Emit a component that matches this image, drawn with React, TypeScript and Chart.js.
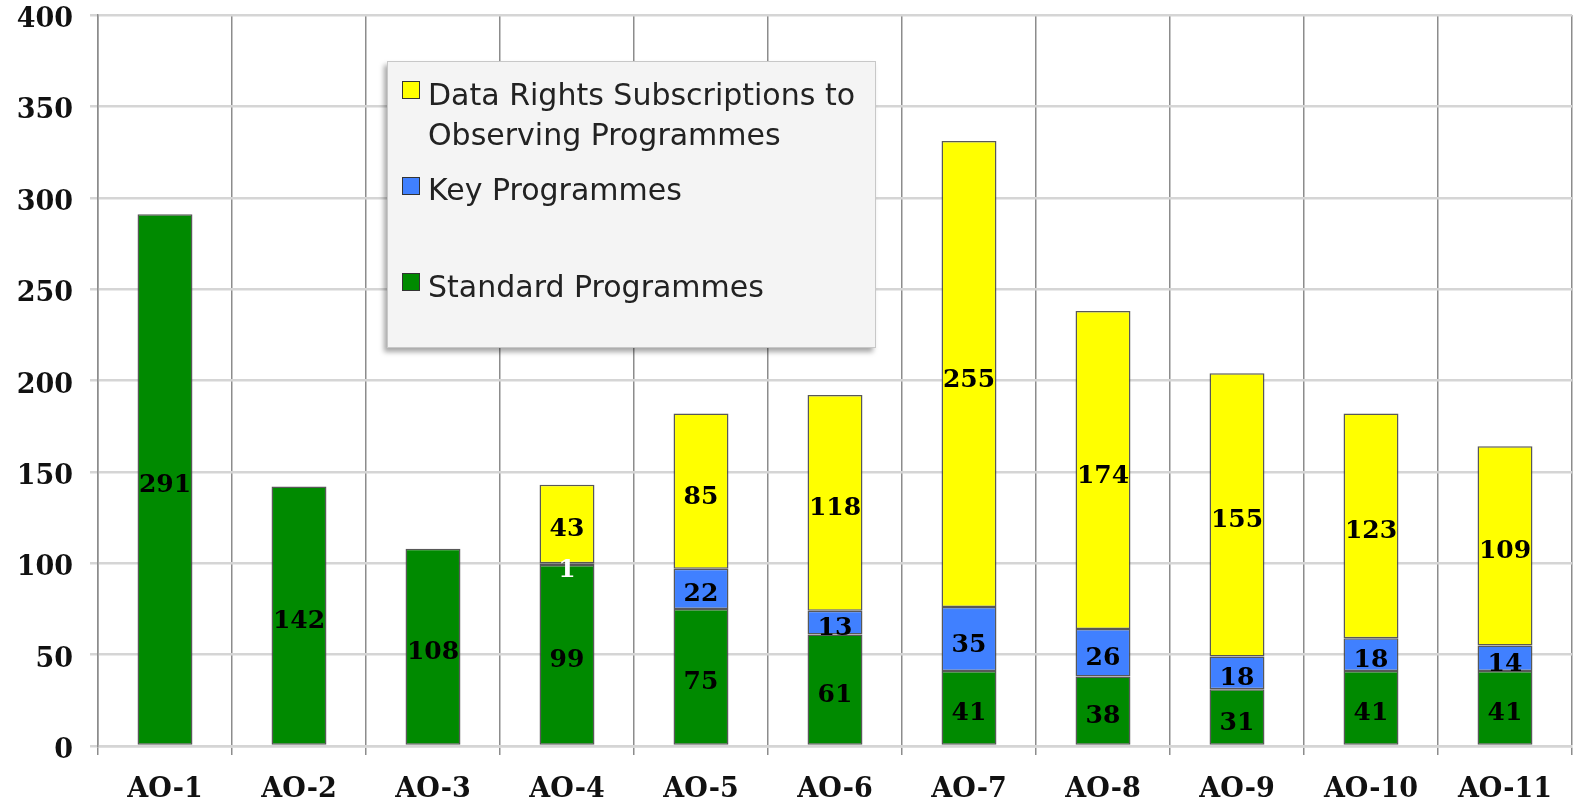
import React, { useEffect, useRef } from "react";
import { Chart, registerables } from "chart.js";

Chart.register(...registerables);

const categories = ["AO-1", "AO-2", "AO-3", "AO-4", "AO-5", "AO-6", "AO-7", "AO-8", "AO-9", "AO-10", "AO-11"];
const standardProgrammes = [291, 142, 108, 99, 75, 61, 41, 38, 31, 41, 41];
const keyProgrammes = [0, 0, 0, 1, 22, 13, 35, 26, 18, 18, 14];
const dataRights = [0, 0, 0, 43, 85, 118, 255, 174, 155, 123, 109];
const yTicks = [0, 50, 100, 150, 200, 250, 300, 350, 400];

const GREEN = "#008a00";
const BLUE = "#4080ff";
const YELLOW = "#ffff00";

const SERIF = "'DejaVu Serif', 'Liberation Serif', serif";
const SANS = "'DejaVu Sans', 'Liberation Sans', sans-serif";

const labelPlugin = {
  id: "segLabels",
  afterDatasetsDraw(chart: any) {
    const ctx = chart.ctx;
    ctx.save();
    ctx.font = `bold 25px ${SERIF}`;
    ctx.textAlign = "center";
    ctx.textBaseline = "middle";
    chart.data.datasets.forEach((ds: any, i: number) => {
      const meta = chart.getDatasetMeta(i);
      meta.data.forEach((el: any, j: number) => {
        const v = ds.data[j];
        if (!v) return;
        const p = el.getProps(["x", "y", "base"], true);
        const h = Math.abs(p.base - p.y);
        const cy = (p.y + p.base) / 2 + 6;
        ctx.fillStyle = h < 12 ? "#ffffff" : "#000000";
        ctx.fillText(String(v), p.x, cy);
      });
    });
    ctx.restore();
  },
};

export default function App() {
  const ref = useRef<HTMLCanvasElement | null>(null);
  useEffect(() => {
    document.body.style.margin = "0";
    const canvas = ref.current;
    if (!canvas) return;
    const border = { borderWidth: 1.5, borderColor: "rgba(70,70,70,0.9)", borderSkipped: false };
    const chart = new Chart(canvas, {
      type: "bar",
      data: {
        labels: categories,
        datasets: [
          { label: "Standard Programmes", data: standardProgrammes, backgroundColor: GREEN, ...border },
          { label: "Key Programmes", data: keyProgrammes, backgroundColor: BLUE, ...border },
          { label: "Data Rights Subscriptions to Observing Programmes", data: dataRights, backgroundColor: YELLOW, ...border },
        ],
      } as any,
      options: {
        animation: false,
        responsive: true,
        maintainAspectRatio: false,
        layout: { padding: { top: 15, right: 1, left: 0, bottom: 0 } },
        datasets: { bar: { barPercentage: 0.41, categoryPercentage: 1 } },
        plugins: { legend: { display: false }, tooltip: { enabled: false } },
        scales: {
          x: {
            stacked: true,
            offset: true,
            grid: { offset: true, color: "#8c8c8c", lineWidth: 1.5, tickLength: 9, drawTicks: true },
            border: { color: "#d5d5d5", width: 2.5 },
            ticks: { color: "#111", font: { family: SERIF, size: 27, weight: "bold" }, padding: 19 },
            afterFit: (s: any) => { s.height = 58; s.paddingLeft = 0; s.paddingRight = 0; },
          },
          y: {
            stacked: true,
            min: 0,
            max: 400,
            afterBuildTicks: (s: any) => { s.ticks = yTicks.map((v) => ({ value: v })); },
            grid: { color: "#d5d5d5", lineWidth: 2.5, tickLength: 8 },
            border: { color: "#8c8c8c", width: 1.5 },
            ticks: { color: "#111", font: { family: SERIF, size: 27, weight: "bold" }, padding: 17, labelOffset: 5 },
            afterFit: (s: any) => { s.width = 98; s.paddingTop = 0; s.paddingBottom = 0; },
          },
        },
      } as any,
      plugins: [labelPlugin],
    });
    return () => chart.destroy();
  }, []);

  const sq = (color: string, top: number) => (
    <div style={{ position: "absolute", left: 14, top, width: 16, height: 16, background: color, border: "1px solid #333" }} />
  );
  const txt = (text: string, top: number) => (
    <div style={{ position: "absolute", left: 40, top, font: `30px ${SANS}`, color: "#222", whiteSpace: "nowrap", lineHeight: "40px" }}>{text}</div>
  );

  return (
    <div style={{ position: "relative", width: 1573, height: 804 }}>
      <canvas ref={ref} />
      <div
        style={{
          position: "absolute",
          left: 387,
          top: 61,
          width: 489,
          height: 287,
          background: "#f4f4f4",
          border: "1px solid #c8c8c8",
          boxShadow: "-3px 4px 5px rgba(0,0,0,0.35)",
          boxSizing: "border-box",
        }}
      >
        {sq(YELLOW, 19)}
        {txt("Data Rights Subscriptions to", 12.5)}
        {txt("Observing Programmes", 52.5)}
        {sq(BLUE, 115)}
        {txt("Key Programmes", 107.5)}
        {sq(GREEN, 211)}
        {txt("Standard Programmes", 204.5)}
      </div>
    </div>
  );
}
